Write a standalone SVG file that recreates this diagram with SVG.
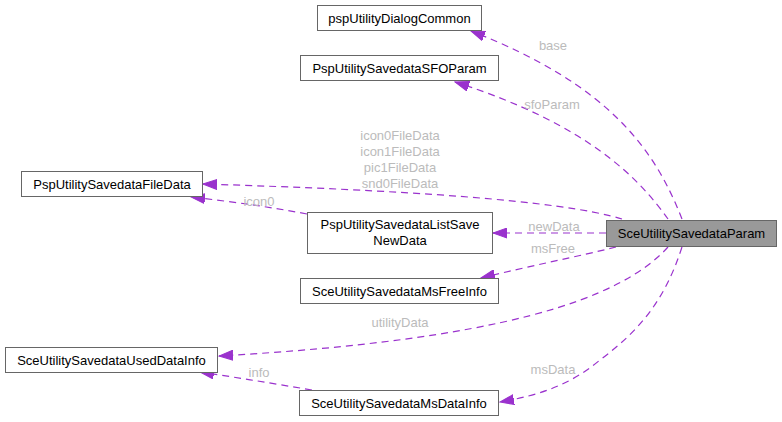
<svg xmlns="http://www.w3.org/2000/svg" width="782" height="422" viewBox="0 0 782 422">
<style>
.box{fill:#ffffff;stroke:#666666;stroke-width:1}
.main{fill:#999999;stroke:#666666;stroke-width:1}
.t{font-family:"Liberation Sans",Arial,sans-serif;font-size:13px;fill:#000000;text-anchor:middle}
.e{fill:none;stroke:#9a32cd;stroke-width:1.2;stroke-dasharray:7,5;marker-end:url(#ah)}
.l{font-family:"Liberation Sans",Arial,sans-serif;font-size:13px;fill:#bbbbbb;text-anchor:middle}
</style>
<defs>
<marker id="ah" markerWidth="15" markerHeight="11" refX="14" refY="5.5" orient="auto" markerUnits="userSpaceOnUse">
<path d="M0,0.5 L14,5.5 L0,10.5 Z" fill="#9a32cd" stroke="#9a32cd"/>
</marker>
</defs>
<rect width="782" height="422" fill="#ffffff"/>
<g id="edges">
<path class="e" d="M682,219 C655,150 610,85 471,31"/>
<path class="e" d="M668,219 C640,180 590,125 455,82"/>
<path class="e" d="M622,219 C560,200 400,190 203,184"/>
<path class="e" d="M307,214 C270,207 235,202 191,197"/>
<path class="e" d="M606,233 L493,233"/>
<path class="e" d="M616,247 C580,256 530,266 481,278"/>
<path class="e" d="M668,247 C620,300 500,340 219,356"/>
<path class="e" d="M312,390 C270,383 240,378 200,372"/>
<path class="e" d="M682,247 C665,300 640,330 600,360 C570,385 540,395 500,402"/>
<text class="l" x="553" y="50">base</text>
<text class="l" x="552" y="109">sfoParam</text>
<text class="l" x="400" y="140">icon0FileData</text>
<text class="l" x="400" y="156">icon1FileData</text>
<text class="l" x="400" y="172">pic1FileData</text>
<text class="l" x="400" y="188">snd0FileData</text>
<text class="l" x="259" y="206">icon0</text>
<text class="l" x="554" y="231">newData</text>
<text class="l" x="553" y="253">msFree</text>
<text class="l" x="400" y="327">utilityData</text>
<text class="l" x="259" y="377">info</text>
<text class="l" x="553" y="374">msData</text>
</g>
<g id="n1"><rect class="box" x="317.5" y="5.5" width="164" height="25"/><text class="t" x="399.5" y="22.5">pspUtilityDialogCommon</text></g>
<g id="n2"><rect class="box" x="300.5" y="55.5" width="198" height="25"/><text class="t" x="399.5" y="72.5">PspUtilitySavedataSFOParam</text></g>
<g id="n3"><rect class="box" x="21.5" y="171.5" width="181" height="25"/><text class="t" x="112" y="188.5">PspUtilitySavedataFileData</text></g>
<g id="n4"><rect class="box" x="307.5" y="212.5" width="185" height="41"/><text class="t" x="400" y="229">PspUtilitySavedataListSave</text><text class="t" x="400" y="245">NewData</text></g>
<g id="n5"><rect class="main" x="606.5" y="220.5" width="170" height="26"/><text class="t" x="691.5" y="238">SceUtilitySavedataParam</text></g>
<g id="n6"><rect class="box" x="300.5" y="278.5" width="198" height="25"/><text class="t" x="399.5" y="295.5">SceUtilitySavedataMsFreeInfo</text></g>
<g id="n7"><rect class="box" x="5.5" y="347.5" width="212" height="25"/><text class="t" x="111.5" y="364.5">SceUtilitySavedataUsedDataInfo</text></g>
<g id="n8"><rect class="box" x="299.5" y="390.5" width="199" height="25"/><text class="t" x="399" y="407.5">SceUtilitySavedataMsDataInfo</text></g>
</svg>
